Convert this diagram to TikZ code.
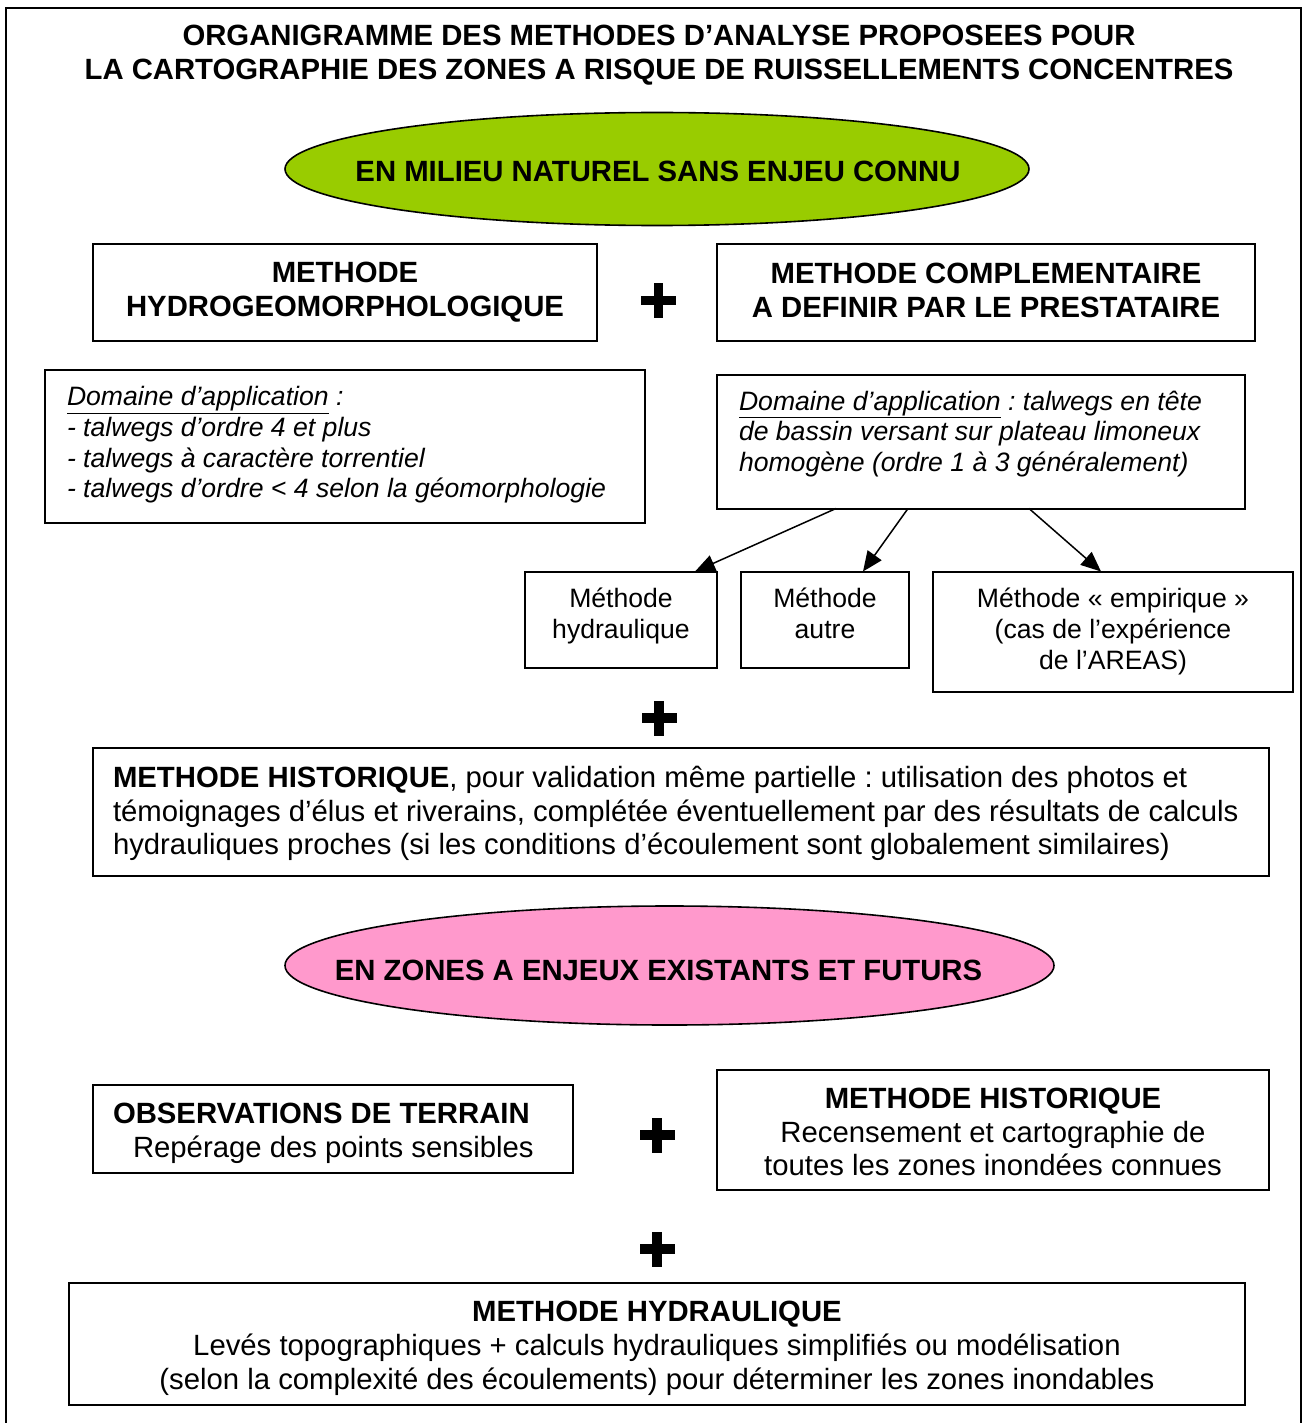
\documentclass[tikz,border=0pt]{standalone}
\usepackage{fontspec}
\setmainfont{Liberation Sans}
\usetikzlibrary{shapes.geometric,arrows.meta}
\definecolor{ovalgreen}{HTML}{99CC00}
\definecolor{ovalpink}{HTML}{FF99CC}
\frenchspacing
\tikzset{
  plussign/.pic={
    \fill[black] (-17.5,-4.6) rectangle (17.5,4.6);
    \fill[black] (-4.8,-17.5) rectangle (4.8,17.5);
  }
}
\begin{document}
\begin{tikzpicture}[x=1pt,y=-1pt,
  bigbold/.style={font=\fontsize{29.3}{34}\selectfont\bfseries},
  bigtext/.style={font=\fontsize{29.3}{33.8}\selectfont},
  smallit/.style={font=\fontsize{26.6}{30.7}\selectfont\itshape},
  smalltext/.style={font=\fontsize{26.6}{31}\selectfont},
  box/.style={draw, line width=2pt, inner sep=0pt, outer sep=0pt},
  oval/.style={ellipse, draw, line width=1.6pt, inner sep=0pt, outer sep=0pt},
  txt/.style={inner sep=0pt, outer sep=0pt},
  arr/.style={line width=1.5pt, -{Triangle[length=20pt,width=17pt]}}
]
\useasboundingbox (0,0) rectangle (1303,1423);
\fill[white] (0,0) rectangle (1303,1423);
% outer frame (open at the bottom)
\draw[line width=2pt] (6,1430) -- (6,8) -- (1301,8) -- (1301,1430);

% title
\node[txt, bigbold, align=center] (title) at (659,55)
  {ORGANIGRAMME DES METHODES D’ANALYSE PROPOSEES POUR\\LA CARTOGRAPHIE DES ZONES A RISQUE DE RUISSELLEMENTS CONCENTRES};

% first oval
\node[oval, fill=ovalgreen, minimum width=744pt, minimum height=113pt] (oval1) at (657,169) {};
\node[txt, bigbold] (oval1t) at (658,171) {EN MILIEU NATUREL SANS ENJEU CONNU};

% two method boxes
\node[box, bigbold, align=center, minimum width=504pt, minimum height=96pt] (hg) at (345,292.5)
  {METHODE\\HYDROGEOMORPHOLOGIQUE};
\pic at (658.5,300.5) {plussign};
\node[box, minimum width=538pt, minimum height=96pt] (comp) at (986,292.5) {};
\node[txt, bigbold, align=center] (compt) at (986,290.5)
  {METHODE COMPLEMENTAIRE\\A DEFINIR PAR LE PRESTATAIRE};

% domain boxes
\node[box, minimum width=600pt, minimum height=153pt] (domL) at (345,446) {};
\node[txt, smallit, align=left, anchor=west] (domLt) at (67,445)
  {\underline{Domaine d’application} :\\
   - talwegs d’ordre 4 et plus\\
   - talwegs à caractère torrentiel\\
   - talwegs d’ordre < 4 selon la géomorphologie};

\node[box, minimum width=528pt, minimum height=134pt] (domR) at (981,441.5) {};
\node[txt, smallit, align=left, anchor=west] (domRt) at (739,434)
  {\underline{Domaine d’application} : talwegs en tête\\
   de bassin versant sur plateau limoneux\\
   homogène (ordre 1 à 3 généralement)};

% sub-methods
\node[box, minimum width=192pt, minimum height=96pt] (hyd) at (621,619.5) {};
\node[txt, smalltext, align=center] (hydt) at (621,616) {Méthode\\hydraulique};
\node[box, minimum width=168pt, minimum height=96pt] (autre) at (825,619.5) {};
\node[txt, smalltext, align=center] (autret) at (825,613) {Méthode\\autre};
\node[box, smalltext, align=center, minimum width=360pt, minimum height=120pt] (emp) at (1113,631.5)
  {Méthode « empirique »\\(cas de l’expérience\\de l’AREAS)};

\draw[arr] ([xshift=-145pt]domR.south) -- ([xshift=74pt]hyd.north);
\draw[arr] ([xshift=-73pt]domR.south) -- ([xshift=38pt]autre.north);
\draw[arr] ([xshift=48pt]domR.south) -- ([xshift=-12pt]emp.north);

\pic at (659,718) {plussign};

% historical method
\node[box, minimum width=1176pt, minimum height=128pt] (histo) at (681,812) {};
\node[txt, bigtext, align=left, anchor=west] (histot) at (113,813.5)
  {\textbf{METHODE HISTORIQUE}, pour validation même partielle : utilisation des photos et\\
   témoignages d’élus et riverains, complétée éventuellement par des résultats de calculs\\
   hydrauliques proches (si les conditions d’écoulement sont globalement similaires)};

% second oval
\node[oval, fill=ovalpink, minimum width=769pt, minimum height=119pt] (oval2) at (669.5,965.5) {};
\node[txt, bigbold] (oval2t) at (658.5,970) {EN ZONES A ENJEUX EXISTANTS ET FUTURS};

% lower boxes
\node[box, minimum width=480pt, minimum height=88pt] (obs) at (332.5,1128.5) {};
\node[txt, bigtext, align=left, anchor=west] (obst) at (113,1133.5)
  {\textbf{OBSERVATIONS DE TERRAIN}\\\hspace*{20pt}Repérage des points sensibles};
\pic at (657,1135) {plussign};
\node[box, minimum width=552pt, minimum height=120pt] (hist2) at (993,1129.5) {};
\node[txt, bigtext, align=center] (hist2t) at (993,1132)
  {\textbf{METHODE HISTORIQUE}\\Recensement et cartographie de\\toutes les zones inondées connues};

\pic at (657,1249) {plussign};

\node[box, minimum width=1176pt, minimum height=122pt] (hydr) at (657,1344) {};
\node[txt, bigtext, align=center] (hydrt) at (657,1348.5)
  {\textbf{METHODE HYDRAULIQUE}\\Levés topographiques + calculs hydrauliques simplifiés ou modélisation\\(selon la complexité des écoulements) pour déterminer les zones inondables};
\end{tikzpicture}
\end{document}
